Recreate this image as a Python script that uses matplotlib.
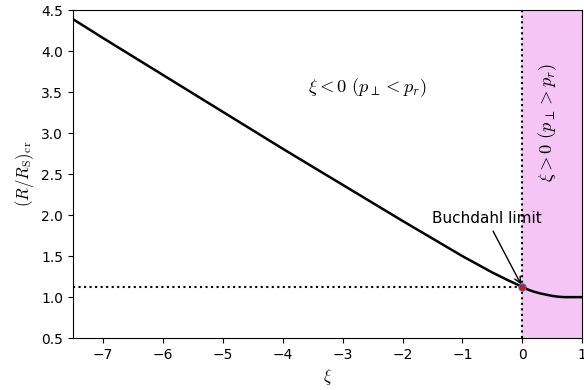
import numpy as np
import matplotlib
matplotlib.use("Agg")
import matplotlib.pyplot as plt

plt.rcParams['mathtext.fontset'] = 'cm'

# critical radius vs anisotropy parameter xi
xi_vals = [-7.5, -7.0, -6.0, -5.0, -4.0, -3.0, -2.0, -1.0, -0.5, -0.25, 0.0,
           0.1, 0.2, 0.3, 0.4, 0.5, 0.6, 0.7, 0.8, 0.9, 1.0]
r_crit = [4.39, 4.16, 3.71, 3.26, 2.81, 2.37, 1.93, 1.50, 1.30, 1.21, 1.125,
          1.09, 1.065, 1.045, 1.03, 1.015, 1.005, 1.0, 1.0, 1.0, 1.0]
buchdahl_xi = 0.0
buchdahl_r = 9 / 8

fig = plt.figure(figsize=(5.84, 3.9), dpi=100)
ax = fig.add_axes([0.125, 0.133, 0.872, 0.841])

ax.axvspan(0, 1, color='#f5c6f5', zorder=0)
ax.plot(xi_vals, r_crit, color='black', linewidth=1.8)
ax.axvline(buchdahl_xi, color='black', linestyle=':', linewidth=1.5)
ax.plot([-7.5, buchdahl_xi], [buchdahl_r, buchdahl_r], color='black', linestyle=':', linewidth=1.5)
ax.plot(buchdahl_xi, buchdahl_r, 'o', color='red', mec='C0', ms=5, zorder=5)

ax.annotate('Buchdahl limit', xy=(buchdahl_xi, buchdahl_r), xytext=(-0.6, 1.96),
            ha='center', va='center', fontsize=11,
            arrowprops=dict(arrowstyle='->', color='black', linewidth=1))

ax.text(-2.58, 3.55, r'$\xi < 0\ (p_\perp < p_r)$', fontsize=13.3, ha='center', va='center')
ax.text(0.42, 3.13, r'$\xi > 0\ (p_\perp > p_r)$', fontsize=13.3, ha='center', va='center',
        rotation=90)

ax.set_xlim(-7.5, 1)
ax.set_ylim(0.5, 4.5)
ax.set_xticks(np.arange(-7, 2, 1))
ax.set_yticks(np.arange(0.5, 4.6, 0.5))
ax.set_xlabel(r'$\xi$', fontsize=12)
ax.set_ylabel(r'$(R/R_\mathrm{S})_\mathrm{cr}$', fontsize=12)

fig.savefig('out.png', dpi=100)
